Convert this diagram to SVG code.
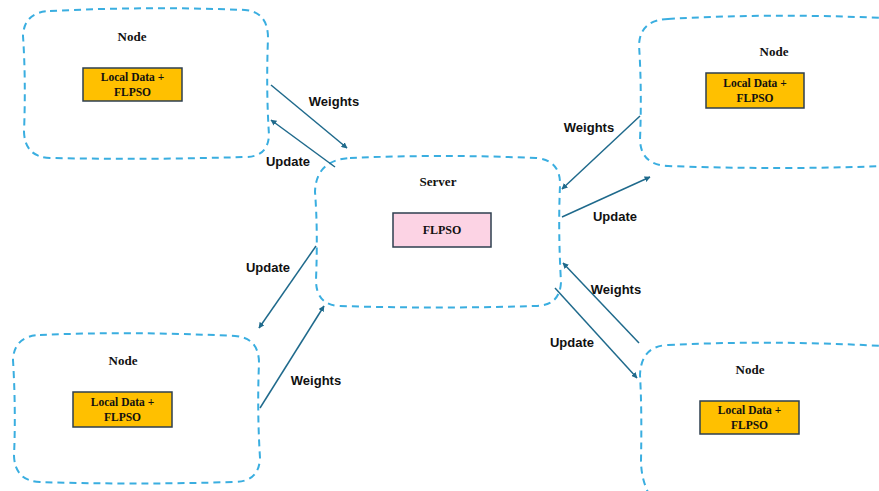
<svg xmlns="http://www.w3.org/2000/svg" width="879" height="491" viewBox="0 0 879 491">
<defs>
<marker id="ah" viewBox="0 0 10 10" refX="9" refY="5" markerWidth="6" markerHeight="6" orient="auto" markerUnits="userSpaceOnUse">
<path d="M0,0 L10,5 L0,10 Z" fill="#1f6a8c"/>
</marker>
<style>
.cloud{fill:none;stroke:#3aaee0;stroke-width:2;stroke-dasharray:7 5}
.box{fill:#ffc000;stroke:#2e3f4f;stroke-width:1.5}
.pink{fill:#fcd3e4;stroke:#2e3f4f;stroke-width:1.5}
.title{font-family:"Liberation Serif",serif;font-weight:bold;font-size:13px;fill:#111;text-anchor:middle}
.inner{font-family:"Liberation Serif",serif;font-weight:bold;font-size:11.5px;fill:#111;text-anchor:middle}
.lbl{font-family:"Liberation Sans",Arial,sans-serif;font-weight:bold;font-size:13px;fill:#111;text-anchor:middle}
.arr{stroke:#1f6a8c;stroke-width:1.5;fill:none;marker-end:url(#ah)}
</style>
</defs>
<rect width="879" height="491" fill="#ffffff"/>
<g id="node-top-left">
<path class="cloud" d="M50,11 Q150,6 245,10 Q268,12 268,38 Q266,90 269,135 Q268,158 243,157 Q150,160 50,158 Q25,157 24,132 Q26,80 23,36 Q24,12 50,11 Z"/>
<text class="title" x="132" y="41">Node</text>
<rect class="box" x="83" y="68" width="99" height="33"/>
<text class="inner" x="132.5" y="81">Local Data +</text>
<text class="inner" x="132.5" y="96">FLPSO</text>
</g>
<g id="server">
<path class="cloud" d="M350,158 Q440,154 536,158 Q561,160 560,186 Q558,230 561,282 Q560,306 535,306 Q440,309 340,306 Q316,305 316,280 Q318,230 315,192 Q316,160 350,158 Z"/>
<text class="title" x="438" y="186">Server</text>
<rect class="pink" x="393" y="213" width="98" height="34"/>
<text class="inner" x="442" y="234" style="font-size:12px">FLPSO</text>
</g>
<g id="node-top-right">
<path class="cloud" d="M668,19 Q770,13 884,18 L884,166 Q780,170 668,166 Q641,165 640,140 Q642,90 639,45 Q640,20 668,19 Z"/>
<text class="title" x="774" y="56">Node</text>
<rect class="box" x="706" y="73" width="98" height="35"/>
<text class="inner" x="755" y="87">Local Data +</text>
<text class="inner" x="755" y="102">FLPSO</text>
</g>
<g id="node-bottom-left">
<path class="cloud" d="M40,335 Q130,331 235,336 Q259,338 259,363 Q257,410 260,458 Q259,482 234,482 Q130,485 40,482 Q15,481 14,456 Q16,410 13,360 Q14,336 40,335 Z"/>
<text class="title" x="123" y="365">Node</text>
<rect class="box" x="73" y="392" width="99" height="35"/>
<text class="inner" x="122.5" y="406">Local Data +</text>
<text class="inner" x="122.5" y="421">FLPSO</text>
</g>
<g id="node-bottom-right">
<path class="cloud" d="M668,345 Q770,340 884,346 L884,496 L650,496 Q641,480 641,460 Q642,410 640,375 Q641,346 668,345 Z"/>
<text class="title" x="750" y="374">Node</text>
<rect class="box" x="700" y="401" width="99" height="33"/>
<text class="inner" x="749.5" y="414">Local Data +</text>
<text class="inner" x="749.5" y="429">FLPSO</text>
</g>
<g id="connectors">
<line class="arr" x1="271" y1="85" x2="347" y2="148"/>
<line class="arr" x1="335" y1="167" x2="271" y2="120"/>
<line class="arr" x1="640" y1="116" x2="562" y2="189"/>
<line class="arr" x1="562" y1="217" x2="650" y2="177"/>
<line class="arr" x1="639" y1="343" x2="563" y2="263"/>
<line class="arr" x1="555" y1="288" x2="637" y2="378"/>
<line class="arr" x1="316" y1="246" x2="259" y2="328"/>
<line class="arr" x1="260" y1="408" x2="324" y2="306"/>
</g>
<g id="labels">
<text class="lbl" x="334" y="106">Weights</text>
<text class="lbl" x="288" y="166">Update</text>
<text class="lbl" x="589" y="132">Weights</text>
<text class="lbl" x="615" y="221">Update</text>
<text class="lbl" x="616" y="294">Weights</text>
<text class="lbl" x="572" y="347">Update</text>
<text class="lbl" x="268" y="272">Update</text>
<text class="lbl" x="316" y="385">Weights</text>
</g>
</svg>
